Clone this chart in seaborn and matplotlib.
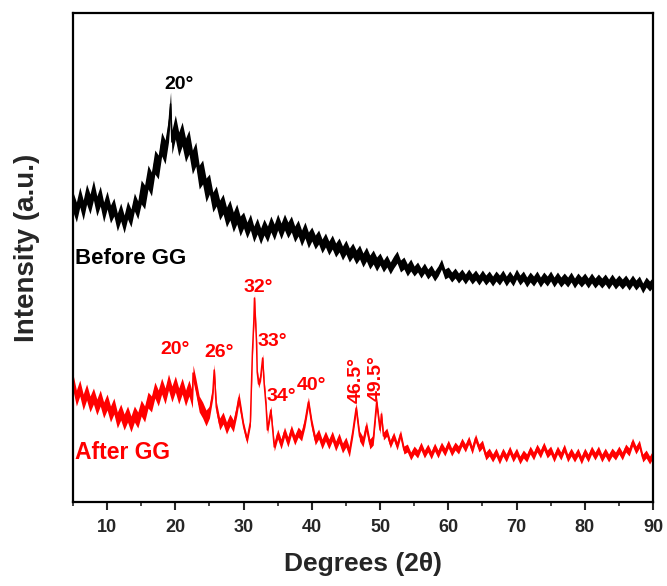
import numpy as np
import pandas as pd
import matplotlib
matplotlib.use("Agg")
import matplotlib.pyplot as plt
import seaborn as sns

# Values (intensity in arbitrary units)
grid_start, grid_stop, grid_step = 5.0, 90.0, 0.5

before_gg = [
    300, 290, 305, 292, 308, 298, 312, 296, 306, 290,   # 5.0 - 9.5
    302, 288, 295, 280, 290, 278, 292, 284, 300, 292,   # 10.0 - 14.5
    310, 305, 325, 318, 340, 335, 358, 350, 372, 360,   # 15.0 - 19.5
    375, 358, 368, 352, 360, 340, 348, 325, 330, 312,   # 20.0 - 24.5
    318, 300, 306, 292, 298, 285, 292, 280, 288, 276,   # 25.0 - 29.5
    282, 272, 280, 268, 276, 266, 275, 268, 278, 270,   # 30.0 - 34.5
    280, 271, 280, 272, 278, 268, 274, 264, 272, 262,   # 35.0 - 39.5
    268, 260, 265, 256, 262, 254, 260, 252, 257, 249,   # 40.0 - 44.5
    255, 247, 252, 245, 250, 242, 248, 240, 245, 238,   # 45.0 - 49.5
    243, 236, 241, 234, 240, 245, 236, 239, 232, 237,   # 50.0 - 54.5
    231, 235, 229, 234, 228, 232, 226, 231, 238, 228,   # 55.0 - 59.5
    230, 225, 229, 224, 228, 223, 228, 223, 227, 222,   # 60.0 - 64.5
    227, 222, 226, 221, 226, 222, 227, 221, 226, 221,   # 65.0 - 69.5
    228, 222, 226, 220, 225, 221, 226, 220, 225, 221,   # 70.0 - 74.5
    226, 220, 225, 220, 224, 220, 225, 219, 224, 220,   # 75.0 - 79.5
    224, 219, 224, 219, 223, 219, 223, 218, 223, 218,   # 80.0 - 84.5
    222, 218, 222, 217, 222, 217, 221, 214, 220, 216,   # 85.0 - 89.5
    220,                                                # 90.0
]
before_peak_x = [19.3]
before_peak_y = [398]
# half thickness of the noise band, one value per 5 degree bin (5-10, 10-15, ...)
before_band = [10, 9, 12, 12, 10, 8, 8, 7, 7, 6, 5, 5, 5, 5, 5, 5, 5, 5]

after_gg = [
    120, 104, 114, 100, 110, 98, 106, 95, 104, 92,      # 5.0 - 9.5
    100, 88, 96, 82, 90, 80, 88, 78, 88, 82,            # 10.0 - 14.5
    94, 88, 102, 98, 112, 104, 116, 106, 120, 108,      # 15.0 - 19.5
    118, 106, 116, 104, 114, 102, 116, 98, 92, 84,      # 20.0 - 24.5
    90, 110, 95, 78, 84, 74, 82, 76, 92, 96,            # 25.0 - 29.5
    76, 62, 80, 180, 130, 125, 120, 72, 92, 55,         # 30.0 - 34.5
    68, 58, 70, 60, 72, 62, 70, 66, 80, 100,            # 35.0 - 39.5
    78, 62, 68, 58, 66, 58, 66, 56, 64, 54,             # 40.0 - 44.5
    60, 50, 70, 94, 66, 60, 76, 58, 62, 100,            # 45.0 - 49.5
    72, 66, 70, 58, 66, 56, 68, 52, 54, 46,             # 50.0 - 54.5
    52, 48, 56, 48, 54, 47, 55, 48, 56, 50,             # 55.0 - 59.5
    58, 50, 56, 52, 60, 54, 62, 52, 64, 54,             # 60.0 - 64.5
    58, 46, 50, 44, 50, 42, 50, 44, 52, 44,             # 65.0 - 69.5
    50, 42, 48, 44, 52, 46, 54, 48, 56, 48,             # 70.0 - 74.5
    52, 44, 52, 46, 54, 44, 50, 44, 50, 42,             # 75.0 - 79.5
    50, 44, 52, 46, 52, 44, 50, 44, 50, 46,             # 80.0 - 84.5
    52, 46, 54, 50, 60, 52, 58, 44, 48, 42,             # 85.0 - 89.5
    48,                                                 # 90.0
]
after_peak_x = [22.6, 25.7, 29.3, 31.3, 31.6, 31.9, 32.2, 32.8, 33.3, 34.3, 50.2]
after_peak_y = [129, 132, 104, 150, 204, 160, 118, 144, 96, 70, 88]
after_band = [8, 8, 8, 8, 6, 4, 5, 5, 5, 4, 4, 4, 4, 4, 4, 4, 4, 4]

before_labels = [("20°", 20.5, 418)]
after_labels = [("20°", 20.0, 153), ("26°", 26.4, 150), ("32°", 32.1, 215),
                ("33°", 34.2, 161), ("34°", 35.6, 106), ("40°", 39.9, 117)]
after_vlabels = [("46.5°", 46.5, 122), ("49.5°", 49.5, 124)]


def build(values, px, py, band, name):
    x = np.arange(grid_start, grid_stop + grid_step / 2, grid_step)
    df = pd.DataFrame({"deg": np.concatenate([x, px]),
                       "intensity": np.concatenate([values, py])})
    df = df.sort_values("deg").reset_index(drop=True)
    idx = ((df["deg"] - grid_start) // 5).astype(int)
    df["half"] = np.asarray(band)[idx]
    df["sample"] = name
    return df


df_before = build(before_gg, before_peak_x, before_peak_y, before_band, "Before GG")
df_after = build(after_gg, after_peak_x, after_peak_y, after_band, "After GG")

sns.set_style("ticks")
plt.rcParams["font.family"] = ["Liberation Sans", "DejaVu Sans"]
plt.rcParams["font.weight"] = "bold"

fig = plt.figure(figsize=(6.67, 5.86), dpi=100)
ax = fig.add_axes([0.1094, 0.1433, 0.8696, 0.8345])

for df, col in [(df_before, "black"), (df_after, "#ff0000")]:
    ax.fill_between(df["deg"], df["intensity"] - df["half"],
                    df["intensity"] + df["half"], color=col, lw=0)
    sns.lineplot(data=df, x="deg", y="intensity", color=col, lw=1.1,
                 estimator=None, sort=False, ax=ax)

ax.set_xlim(5, 90)
ax.set_ylim(0, 489)
ax.set_xticks(range(10, 91, 10))
ax.set_xticks(range(5, 91, 5), minor=True)
ax.set_yticks([])
ax.tick_params(axis="x", which="major", length=6, width=1.5, direction="out", pad=6)
ax.tick_params(axis="x", which="minor", length=3, width=1.2, direction="out")
for lab in ax.get_xticklabels():
    lab.set_fontsize(13)
    lab.set_fontweight("bold")
for sp in ax.spines.values():
    sp.set_linewidth(1.6)
    sp.set_color("black")

ax.set_xlabel("Degrees (2θ)", fontsize=19, fontweight="bold", labelpad=12)
ax.set_ylabel("Intensity (a.u.)", fontsize=20, fontweight="bold")
ax.yaxis.set_label_coords(-0.057, 0.52)

ax.text(5.3, 244, "Before GG", fontsize=16, fontweight="bold", color="black",
        ha="left", va="center")
ax.text(5.3, 50, "After GG", fontsize=16.5, fontweight="bold", color="#ff0000",
        ha="left", va="center")
for t, x, y in before_labels:
    ax.text(x, y, t, fontsize=14, fontweight="bold", color="black",
            ha="center", va="center")
for t, x, y in after_labels:
    ax.text(x, y, t, fontsize=14, fontweight="bold", color="#ff0000",
            ha="center", va="center")
for t, x, y in after_vlabels:
    ax.text(x, y, t, fontsize=14, fontweight="bold", color="#ff0000",
            ha="center", va="center", rotation=90)

fig.savefig("out.png", dpi=100)
